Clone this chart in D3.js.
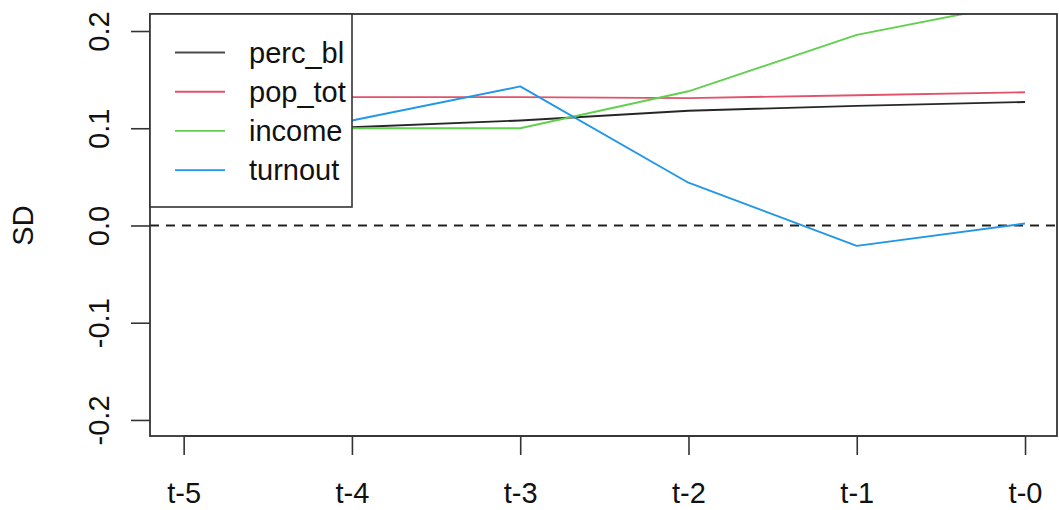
<!DOCTYPE html>
<html>
<head>
<meta charset="utf-8">
<script src="https://cdn.jsdelivr.net/npm/d3@7"></script>
<style>
  html, body { margin: 0; padding: 0; background: #fff; }
  svg { display: block; }
  text { font-family: "Liberation Sans", Arial, Helvetica, sans-serif; fill: #111; }
</style>
</head>
<body>
<svg id="chart" width="1059" height="510"></svg>
<script>
// Periods on the x axis
const periods = ["t-5", "t-4", "t-3", "t-2", "t-1", "t-0"];
// Standardized differences per covariate (no value for t-5)
const percBl  = [null, 0.101, 0.108, 0.118, 0.123, 0.127];
const popTot  = [null, 0.132, 0.132, 0.131, 0.134, 0.137];
const income  = [null, 0.100, 0.100, 0.138, 0.196, 0.230];
const turnout = [null, 0.108, 0.143, 0.044, -0.021, 0.002];
const seriesNames = ["perc_bl", "pop_tot", "income", "turnout"];
const seriesColors = ["#000000", "#DF536B", "#61D04F", "#2297E6"];
const yTicks = [-0.2, -0.1, 0.0, 0.1, 0.2];

const series = [percBl, popTot, income, turnout].map((vals, i) => ({
  name: seriesNames[i], color: seriesColors[i], values: vals
}));

const plot = { left: 150, right: 1057, top: 14, bottom: 436 };
const fontSize = 29;

const svg = d3.select("#chart");

const x = d3.scaleLinear().domain([-0.2, 5.19]).range([plot.left, plot.right]);
const y = d3.scaleLinear().domain([-0.2165, 0.2175]).range([plot.bottom, plot.top]);

// clip region for the data lines
svg.append("defs").append("clipPath").attr("id", "plotClip")
  .append("rect")
  .attr("x", plot.left).attr("y", plot.top)
  .attr("width", plot.right - plot.left).attr("height", plot.bottom - plot.top);

// zero reference line
svg.append("line")
  .attr("x1", plot.left).attr("x2", plot.right)
  .attr("y1", y(0)).attr("y2", y(0))
  .attr("stroke", "#222").attr("stroke-width", 1.8)
  .attr("stroke-dasharray", "9,7");

// series lines
const line = d3.line()
  .defined(d => d != null)
  .x((d, i) => x(i))
  .y(d => y(d));

const lineG = svg.append("g").attr("clip-path", "url(#plotClip)");
series.forEach(s => {
  lineG.append("path")
    .datum(s.values)
    .attr("fill", "none")
    .attr("stroke", s.color)
    .attr("stroke-width", 1.9)
    .attr("stroke-opacity", s.color === "#000000" ? 0.85 : 1)
    .attr("stroke-linejoin", "round")
    .attr("d", line);
});

// y axis (plain hyphen for negative numbers)
const fmt = d3.format(".1f");
const yAxis = d3.axisLeft(y).tickValues(yTicks).tickSize(19)
  .tickFormat(d => fmt(d).replace("\u2212", "-"));
const yG = svg.append("g").attr("transform", `translate(${plot.left},0)`).call(yAxis);
yG.select(".domain").remove();
yG.selectAll(".tick line").attr("stroke", "#333").attr("stroke-width", 1.6);
yG.selectAll(".tick text")
  .attr("font-size", fontSize)
  .attr("fill", "#111")
  .attr("text-anchor", "middle")
  .attr("x", null).attr("dy", null)
  .attr("transform", "translate(-41,0) rotate(-90)");

// x axis
const xAxis = d3.axisBottom(x).tickValues(d3.range(periods.length)).tickSize(19)
  .tickFormat(i => periods[i]);
const xG = svg.append("g").attr("transform", `translate(0,${plot.bottom})`).call(xAxis);
xG.select(".domain").attr("stroke", "#333").attr("stroke-width", 1.6)
  .attr("d", `M${x(0)},0H${x(periods.length - 1)}`);
xG.selectAll(".tick line").attr("stroke", "#333").attr("stroke-width", 1.6);
xG.selectAll(".tick text")
  .attr("font-size", fontSize)
  .attr("fill", "#111")
  .attr("y", 67).attr("dy", null);

// y axis title
svg.append("text")
  .attr("transform", `translate(33,${y(0)}) rotate(-90)`)
  .attr("text-anchor", "middle")
  .attr("font-size", fontSize)
  .text("SD");

// plot frame
svg.append("rect")
  .attr("x", plot.left).attr("y", plot.top)
  .attr("width", plot.right - plot.left).attr("height", plot.bottom - plot.top)
  .attr("fill", "none").attr("stroke", "#333").attr("stroke-width", 1.8);

// legend
const legend = svg.append("g");
legend.append("rect")
  .attr("x", plot.left).attr("y", plot.top)
  .attr("width", 202).attr("height", 193)
  .attr("fill", "#fff").attr("stroke", "#333").attr("stroke-width", 1.6);
series.forEach((s, i) => {
  const ry = plot.top + 38.5 + i * 39.2;
  legend.append("line")
    .attr("x1", plot.left + 25).attr("x2", plot.left + 75)
    .attr("y1", ry).attr("y2", ry)
    .attr("stroke", s.color).attr("stroke-width", 1.9)
    .attr("stroke-opacity", s.color === "#000000" ? 0.7 : 1);
  legend.append("text")
    .attr("x", plot.left + 99).attr("y", ry)
    .attr("dy", "0.35em")
    .attr("font-size", fontSize)
    .text(s.name);
});
</script>
</body>
</html>
